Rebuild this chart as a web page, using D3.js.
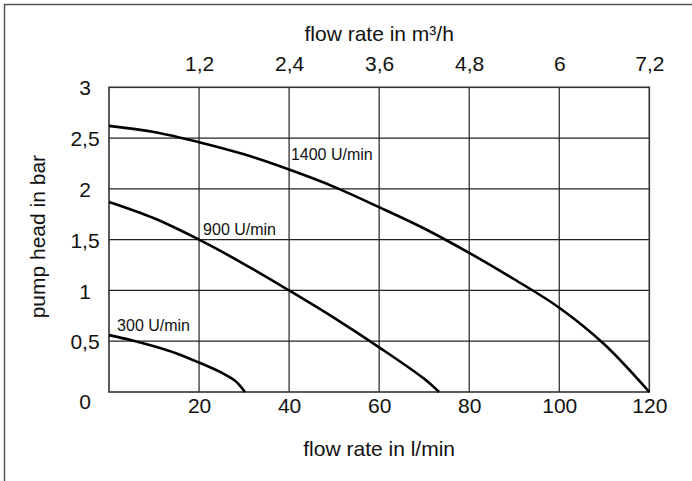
<!DOCTYPE html>
<html>
<head>
<meta charset="utf-8">
<script src="https://cdn.jsdelivr.net/npm/d3@7"></script>
<style>
  html, body { margin: 0; padding: 0; background: #fff; }
  svg { display: block; }
  text { font-family: "Liberation Sans", Arial, sans-serif; fill: #111; }
</style>
</head>
<body>
<svg id="chart" width="692" height="481"></svg>
<script>
// Pump performance curves: head (bar) vs. flow rate (l/min) at three speeds
const flowTicks = [20, 40, 60, 80, 100, 120];
const flowTickLabels = ["20", "40", "60", "80", "100", "120"];
const cubicTicks = [1.2, 2.4, 3.6, 4.8, 6, 7.2];
const cubicTickLabels = ["1,2", "2,4", "3,6", "4,8", "6", "7,2"];
const headTicks = [0, 0.5, 1, 1.5, 2, 2.5, 3];
const headTickLabels = ["0", "0,5", "1", "1,5", "2", "2,5", "3"];

const speeds = ["1400 U/min", "900 U/min", "300 U/min"];
const flow1400 = [0, 10, 20, 30, 40, 50, 60, 70, 80, 90, 100, 110, 120];
const head1400 = [2.62, 2.56, 2.46, 2.34, 2.19, 2.02, 1.82, 1.61, 1.37, 1.11, 0.83, 0.47, 0];
const flow900 = [0, 10, 20, 30, 40, 50, 60, 70, 73.3];
const head900 = [1.87, 1.71, 1.50, 1.26, 1.00, 0.73, 0.44, 0.13, 0];
const flow300 = [0, 5, 10, 15, 20, 25, 28, 30.2];
const head300 = [0.56, 0.51, 0.45, 0.38, 0.29, 0.19, 0.11, 0];

// label anchor points (flow, head) for each speed curve
const labelFlow = [40.4, 20.9, 1.8];
const labelHead = [2.28, 1.55, 0.6];

const svg = d3.select("#chart");
const plotLeft = 109, plotRight = 649.3, plotTop = 87.3, plotBottom = 392;

const x = d3.scaleLinear().domain([0, 120]).range([plotLeft, plotRight]);
const x2 = d3.scaleLinear().domain([0, 7.2]).range([plotLeft, plotRight]);
const y = d3.scaleLinear().domain([0, 3]).range([plotBottom, plotTop]);

// outer frame (extends past the canvas edge on the right and bottom)
svg.append("rect")
  .attr("x", 4.5).attr("y", 4.5)
  .attr("width", 720).attr("height", 520)
  .attr("fill", "none").attr("stroke", "#555").attr("stroke-width", 1.5);

// grid
const grid = svg.append("g").attr("stroke", "#222").attr("stroke-width", 1.2);
grid.selectAll("line.v").data(flowTicks.slice(0, -1)).join("line")
  .attr("class", "v")
  .attr("x1", d => x(d)).attr("x2", d => x(d))
  .attr("y1", plotTop).attr("y2", plotBottom);
grid.selectAll("line.h").data(headTicks.slice(1, -1)).join("line")
  .attr("class", "h")
  .attr("x1", plotLeft).attr("x2", plotRight)
  .attr("y1", d => y(d)).attr("y2", d => y(d));

// plot border
svg.append("rect")
  .attr("x", plotLeft).attr("y", plotTop)
  .attr("width", plotRight - plotLeft).attr("height", plotBottom - plotTop)
  .attr("fill", "none").attr("stroke", "#333").attr("stroke-width", 1.6);

// bottom axis (l/min)
const bottomAxis = d3.axisBottom(x).tickValues(flowTicks)
  .tickFormat((d, i) => flowTickLabels[i]).tickSize(0).tickPadding(0);
const gB = svg.append("g").attr("transform", `translate(0,${plotBottom})`).call(bottomAxis);
gB.select(".domain").remove();
gB.selectAll("text").attr("dy", null).attr("y", 21.3)
  .style("font-size", "21px").attr("fill", "#111");

// top axis (m³/h)
const topAxis = d3.axisTop(x2).tickValues(cubicTicks)
  .tickFormat((d, i) => cubicTickLabels[i]).tickSize(0).tickPadding(0);
const gT = svg.append("g").attr("transform", `translate(0,${plotTop})`).call(topAxis);
gT.select(".domain").remove();
gT.selectAll("text").attr("dy", null).attr("y", -16.6)
  .style("font-size", "21px").attr("fill", "#111");

// left axis (bar), labels centred in the margin
const leftAxis = d3.axisLeft(y).tickValues(headTicks)
  .tickFormat((d, i) => headTickLabels[i]).tickSize(0).tickPadding(0);
const gL = svg.append("g").attr("transform", `translate(${plotLeft},0)`).call(leftAxis);
gL.select(".domain").remove();
gL.selectAll("text")
  .attr("text-anchor", "middle").attr("x", 85 - plotLeft)
  .attr("dy", null)
  .attr("transform", d => `translate(0,${d === 0 ? 16.3 : 7.6})`)
  .style("font-size", "21px").attr("fill", "#111");

// axis titles
svg.append("text").attr("x", (plotLeft + plotRight) / 2).attr("y", 40.5)
  .attr("text-anchor", "middle").style("font-size", "21px")
  .text("flow rate in m³/h");
svg.append("text").attr("x", (plotLeft + plotRight) / 2).attr("y", 456)
  .attr("text-anchor", "middle").style("font-size", "21px")
  .text("flow rate in l/min");
svg.append("text")
  .attr("transform", `translate(45,${(plotTop + plotBottom) / 2 - 3}) rotate(-90)`)
  .attr("text-anchor", "middle").style("font-size", "21px")
  .text("pump head in bar");

// curves
const series = [
  d3.zip(flow1400, head1400),
  d3.zip(flow900, head900),
  d3.zip(flow300, head300)
];
const line = d3.line().x(d => x(d[0])).y(d => y(d[1])).curve(d3.curveCatmullRom.alpha(0.5));
svg.append("g").selectAll("path").data(series).join("path")
  .attr("d", line)
  .attr("fill", "none").attr("stroke", "#000").attr("stroke-width", 2.6)
  .attr("stroke-linecap", "butt");

// speed labels
svg.append("g").selectAll("text").data(speeds).join("text")
  .attr("x", (d, i) => x(labelFlow[i]))
  .attr("y", (d, i) => y(labelHead[i]))
  .style("font-size", "16px")
  .text(d => d);
</script>
</body>
</html>
